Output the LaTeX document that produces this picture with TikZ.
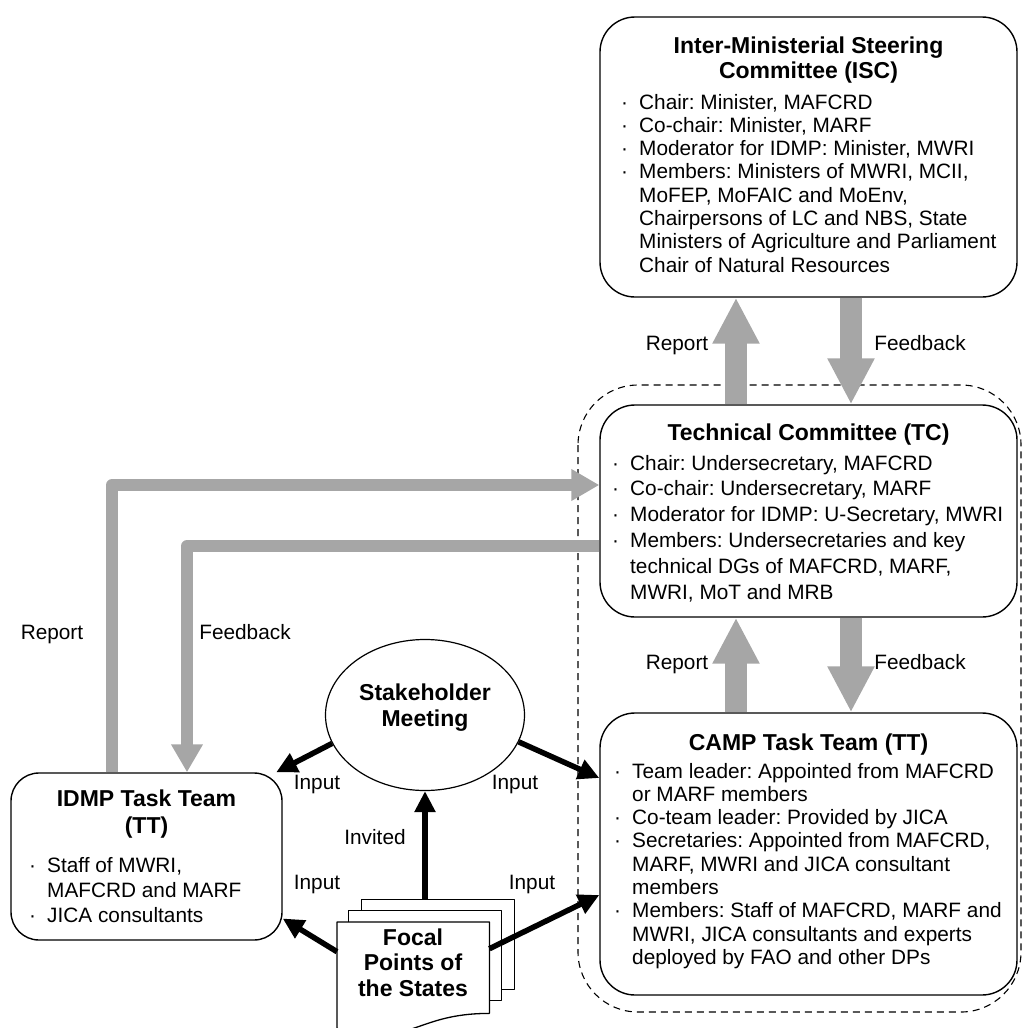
\documentclass[tikz,border=0pt]{standalone}
\usepackage{fontspec}
\setmainfont{Liberation Sans}
\usetikzlibrary{arrows.meta,calc,shapes.geometric}
\definecolor{arrgray}{RGB}{166,166,166}
\newcommand{\bul}{\makebox[18pt][l]{·}}
\newcommand{\ind}{\hspace*{18pt}}
\newcommand{\lst}[1]{\begin{tabular}[t]{@{}l@{}}#1\end{tabular}}
\newcommand{\stk}[1]{\begin{tabular}[t]{@{}c@{}}#1\end{tabular}}
\frenchspacing

\begin{document}
\begin{tikzpicture}[x=1pt,y=-1pt,line join=round,
  box/.style={draw,line width=1.4pt,fill=white,rounded corners=35pt,inner sep=0pt},
  page/.style={draw,line width=1.3pt,fill=white,inner sep=0pt,minimum width=153pt,minimum height=90pt,anchor=north west},
  gry/.style={arrgray,line width=22pt,-{Triangle[width=44pt,length=46pt]}},
  gryl/.style={arrgray,line width=12pt,-{Triangle[width=30pt,length=28pt]}},
  blk/.style={line width=5.5pt,-{Triangle[width=20pt,length=21pt]}},
  ttl/.style={font=\bfseries\fontsize{23}{25}\selectfont,inner sep=0pt,anchor=base},
  body/.style={font=\fontsize{20.8}{23.3}\selectfont,inner sep=0pt,anchor=base west},
  lbl/.style={font=\fontsize{20.8}{24}\selectfont,inner sep=0pt,anchor=base}]
\useasboundingbox (0,0) rectangle (1022,1028);

% group of TC and CAMP TT
\draw[line width=1.1pt,dash pattern=on 7pt off 5pt,rounded corners=60pt] (578,385) rectangle (1021,1012);

% boxes
\node[box,minimum width=417pt,minimum height=280pt] (isc) at (808.5,157) {};
\node[box,minimum width=417pt,minimum height=212pt] (tc) at (808.5,511) {};
\node[box,minimum width=417pt,minimum height=282pt] (camp) at (808.5,854) {};
\node[box,rounded corners=28pt,minimum width=271pt,minimum height=167pt] (idmp) at (146.5,856.5) {};
\node[ellipse,draw,line width=1.2pt,fill=white,inner sep=0pt,minimum width=199pt,minimum height=151pt] (sm) at (425,715) {};

% report / feedback
\draw[gry] ($(tc.north)+(-72.5,0)$) -- ($(isc.south)+(-72.5,0)$);
\draw[gry] ($(isc.south)+(42.5,0)$) -- ($(tc.north)+(42.5,0)$);
\draw[gry] ($(camp.north)+(-72.5,0)$) -- ($(tc.south)+(-72.5,0)$);
\draw[gry] ($(tc.south)+(42.5,0)$) -- ($(camp.north)+(42.5,0)$);
\draw[gryl] ($(idmp.north)+(-34.5,0)$) |- ($(tc.west)+(0,-26)$);
\draw[gryl] ($(tc.west)+(0,35)$) -| ($(idmp.north)+(40.5,0)$);

% focal points of the states
\node[page] (fpb) at (361,899) {};
\node[page] (fpm) at (348,910) {};
\node[inner sep=0pt,minimum width=152pt,minimum height=91pt,anchor=north west] (fp) at (337,922) {};
\draw[line width=1.3pt,fill=white] (fp.north west) -- (fp.north east) -- (fp.south east)
  .. controls (fp.south) and ($(fp.south)+(0,35)$) .. ($(fp.south west)+(0,15)$) -- cycle;

% inputs
\draw[blk] (sm.197) -- (idmp.33);
\draw[blk] (sm.-16) -- ($(camp.west)+(0,-76)$);
\draw[blk] ($(fp.west)+(0,-16)$) -- ($(idmp.east)+(0,62)$);
\draw[blk] ($(fp.east)+(0,-19)$) -- ($(camp.west)+(0,41)$);
\draw[blk] (fpb.north -| sm.south) -- (sm.south);

% texts
\node[ttl] at (808.5,53) {\stk{Inter-Ministerial Steering\\Committee (ISC)}};
\node[body] at (621,109) {\lst{\bul Chair: Minister, MAFCRD\\
\bul Co-chair: Minister, MARF\\
\bul Moderator for IDMP: Minister, MWRI\\
\bul Members: Ministers of MWRI, MCII,\\
\ind MoFEP, MoFAIC and MoEnv,\\
\ind Chairpersons of LC and NBS, State\\
\ind Ministers of Agriculture and Parliament\\
\ind Chair of Natural Resources}};

\node[ttl] at (808.5,440) {Technical Committee (TC)};
\node[body,font=\fontsize{20.8}{25.8}\selectfont] at (612,470) {\lst{\bul Chair: Undersecretary, MAFCRD\\
\bul Co-chair: Undersecretary, MARF\\
\bul Moderator for IDMP: U-Secretary, MWRI\\
\bul Members: Undersecretaries and key\\
\ind technical DGs of MAFCRD, MARF,\\
\ind MWRI, MoT and MRB}};

\node[ttl] at (808.5,750) {CAMP Task Team (TT)};
\node[body] at (614,778) {\lst{\bul Team leader: Appointed from MAFCRD\\
\ind or MARF members\\
\bul Co-team leader: Provided by JICA\\
\bul Secretaries: Appointed from MAFCRD,\\
\ind MARF, MWRI and JICA consultant\\
\ind members\\
\bul Members: Staff of MAFCRD, MARF and\\
\ind MWRI, JICA consultants and experts\\
\ind deployed by FAO and other DPs}};

\node[ttl,font=\bfseries\fontsize{23}{27}\selectfont] at (146.5,806) {\stk{IDMP Task Team\\(TT)}};
\node[body,font=\fontsize{20.8}{25}\selectfont] at (29,872) {\lst{\bul Staff of MWRI,\\
\ind MAFCRD and MARF\\
\bul JICA consultants}};

\node[ttl,font=\bfseries\fontsize{23}{26}\selectfont] at (425,700) {\stk{Stakeholder\\Meeting}};
\node[ttl,font=\bfseries\fontsize{23}{25.5}\selectfont] at (413,945) {\stk{Focal\\Points of\\the States}};

\node[lbl] at (677,350) {Report};
\node[lbl] at (920,350) {Feedback};
\node[lbl] at (677,669) {Report};
\node[lbl] at (920,669) {Feedback};
\node[lbl] at (52,639) {Report};
\node[lbl] at (245,639) {Feedback};
\node[lbl] at (317,789) {Input};
\node[lbl] at (515,789) {Input};
\node[lbl] at (375,844) {Invited};
\node[lbl] at (317,889) {Input};
\node[lbl] at (532,889) {Input};
\end{tikzpicture}
\end{document}
